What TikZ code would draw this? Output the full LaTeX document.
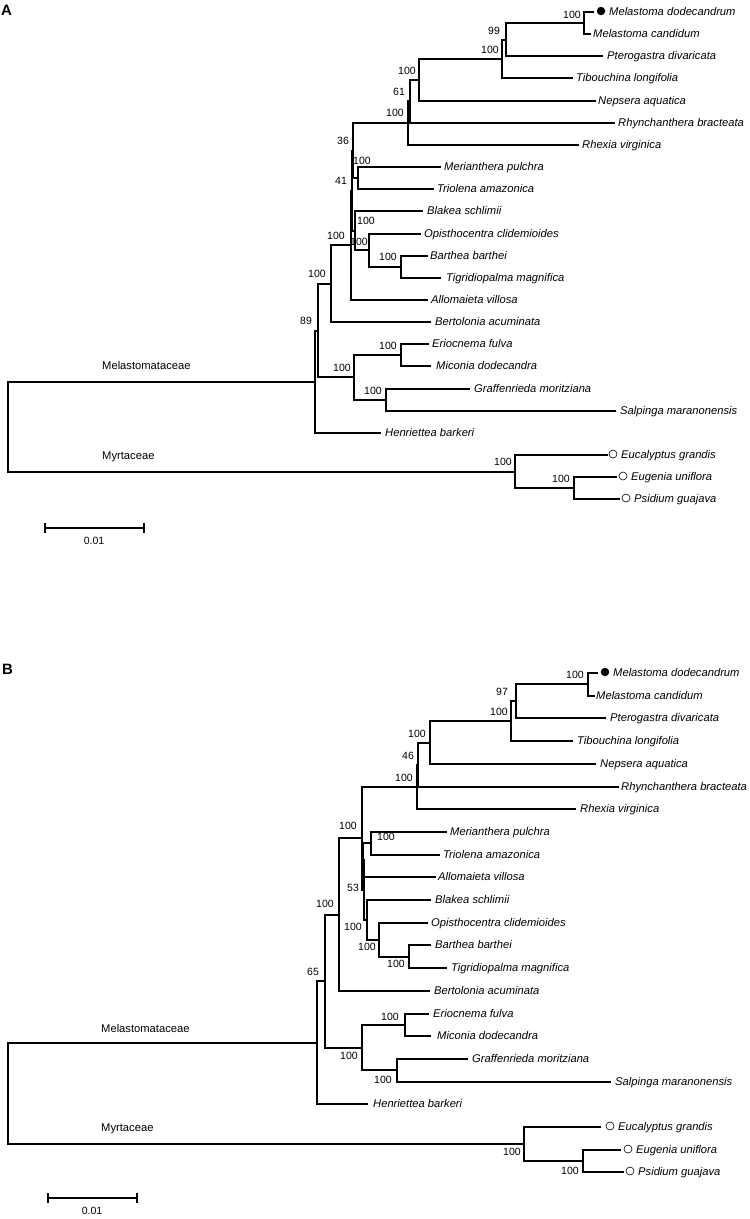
\documentclass[tikz,border=0pt]{standalone}
\usepackage{fontspec}
\setmainfont{Liberation Sans}
\begin{document}
\begin{tikzpicture}[x=1pt,y=-1pt,
  br/.style={line width=1.6pt, line cap=rect},
  leaf/.style={anchor=mid west, inner sep=0pt, font=\fontsize{11.2}{12}\selectfont\itshape},
  bs/.style={inner sep=0pt, font=\fontsize{10.5}{11}\selectfont},
  fam/.style={anchor=mid west, inner sep=0pt, font=\fontsize{11.2}{12}\selectfont},
  panel/.style={anchor=west, inner sep=0pt, font=\fontsize{15}{16}\selectfont\bfseries},
  fdot/.style={circle, fill=black, inner sep=0pt, minimum size=8.5pt},
  odot/.style={circle, draw=black, line width=0.6pt, fill=white, inner sep=0pt, minimum size=8pt},
  sbar/.style={line width=1.6pt}]
\fill[white] (0,0) rectangle (750,1219);
\useasboundingbox (0,0) rectangle (750,1219);

% ================= PANEL A =================
\node[panel] (labA) at (1,10) {A};
% internal nodes
\coordinate (aM) at (584,23);
\coordinate (aP) at (506,40);
\coordinate (aQ) at (502,59);
\coordinate (aR) at (419,80);
\coordinate (aS) at (410,101);
\coordinate (aT) at (408,123);
\coordinate (aW) at (358,178);
\coordinate (aU) at (353,151);
\coordinate (aBa) at (401,267);
\coordinate (aZ) at (369,250);
\coordinate (aY) at (355,231);
\coordinate (aV) at (352,191);
\coordinate (aE) at (351,245);
\coordinate (aC) at (331,284);
\coordinate (aF) at (401,355);
\coordinate (aG) at (386,400);
\coordinate (aD) at (354,377);
\coordinate (aB) at (318,331);
\coordinate (aA) at (315,382);
\coordinate (aI) at (574,488);
\coordinate (aH) at (515,472);
\coordinate (aRoot) at (8,427);
% leaf ends
\coordinate (a0) at (593,12);
\coordinate (a1) at (590,34);
\coordinate (a2) at (602,56);
\coordinate (a3) at (572,78);
\coordinate (a4) at (595,101);
\coordinate (a5) at (614,123);
\coordinate (a6) at (578,145);
\coordinate (a7) at (440,167);
\coordinate (a8) at (433,189);
\coordinate (a9) at (422,211);
\coordinate (a10) at (420,234);
\coordinate (a11) at (427,256);
\coordinate (a12) at (440,278);
\coordinate (a13) at (427,300);
\coordinate (a14) at (430,322);
\coordinate (a15) at (428,344);
\coordinate (a16) at (430,366);
\coordinate (a17) at (469,389);
\coordinate (a18) at (615,411);
\coordinate (a19) at (380,433);
\coordinate (a20) at (607,455);
\coordinate (a21) at (616,477);
\coordinate (a22) at (619,499);

\foreach \p/\c in {aRoot/aA, aRoot/aH, aA/aB, aA/a19, aB/aC, aB/aD, aC/aE, aC/a14,
  aE/aV, aE/a13, aV/aU, aV/aY, aU/aT, aU/aW, aT/aS, aT/a6, aS/aR, aS/a5,
  aR/aQ, aR/a4, aQ/aP, aQ/a3, aP/aM, aP/a2, aM/a0, aM/a1, aW/a7, aW/a8,
  aY/a9, aY/aZ, aZ/a10, aZ/aBa, aBa/a11, aBa/a12, aD/aF, aD/aG,
  aF/a15, aF/a16, aG/a17, aG/a18, aH/a20, aH/aI, aI/a21, aI/a22}
  \draw[br] (\p) |- (\c);

% leaf labels
\node[fdot] (da0) at (601,11) {};
\node[leaf] (ta0) at (609,12.5) {Melastoma dodecandrum};
\node[leaf] (ta1) at (593,34.5) {Melastoma candidum};
\node[leaf] (ta2) at (607,56.5) {Pterogastra divaricata};
\node[leaf] (ta3) at (576,78.5) {Tibouchina longifolia};
\node[leaf] (ta4) at (598,101.5) {Nepsera aquatica};
\node[leaf] (ta5) at (618,123.5) {Rhynchanthera bracteata};
\node[leaf] (ta6) at (582,145.5) {Rhexia virginica};
\node[leaf] (ta7) at (444,167.5) {Merianthera pulchra};
\node[leaf] (ta8) at (437,189.5) {Triolena amazonica};
\node[leaf] (ta9) at (427,211.5) {Blakea schlimii};
\node[leaf] (ta10) at (424,234.5) {Opisthocentra clidemioides};
\node[leaf] (ta11) at (430,256.5) {Barthea barthei};
\node[leaf] (ta12) at (446,278.5) {Tigridiopalma magnifica};
\node[leaf] (ta13) at (431,300.5) {Allomaieta villosa};
\node[leaf] (ta14) at (435,322.5) {Bertolonia acuminata};
\node[leaf] (ta15) at (432,344.5) {Eriocnema fulva};
\node[leaf] (ta16) at (436,366.5) {Miconia dodecandra};
\node[leaf] (ta17) at (474,389.5) {Graffenrieda moritziana};
\node[leaf] (ta18) at (620,411.5) {Salpinga maranonensis};
\node[leaf] (ta19) at (385,433.5) {Henriettea barkeri};
\node[odot] (da20) at (613,454) {};
\node[leaf] (ta20) at (621,455.5) {Eucalyptus grandis};
\node[odot] (da21) at (623,476) {};
\node[leaf] (ta21) at (631,477.5) {Eugenia uniflora};
\node[odot] (da22) at (626,498) {};
\node[leaf] (ta22) at (634,499.5) {Psidium guajava};

% bootstrap A
\node[bs] (bsa1) at (572,15) {100};
\node[bs] (bsa2) at (494,31) {99};
\node[bs] (bsa3) at (490,50) {100};
\node[bs] (bsa4) at (407,71) {100};
\node[bs] (bsa5) at (399,92) {61};
\node[bs] (bsa6) at (395,113) {100};
\node[bs] (bsa7) at (343,141) {36};
\node[bs] (bsa8) at (362,161) {100};
\node[bs] (bsa9) at (341,181) {41};
\node[bs] (bsa10) at (366,221) {100};
\node[bs] (bsa11) at (336,236) {100};
\node[bs] (bsa12) at (359,242) {100};
\node[bs] (bsa13) at (388,257) {100};
\node[bs] (bsa14) at (317,274) {100};
\node[bs] (bsa15) at (306,321) {89};
\node[bs] (bsa16) at (388,346) {100};
\node[bs] (bsa17) at (342,368) {100};
\node[bs] (bsa18) at (373,391) {100};
\node[bs] (bsa19) at (503,462) {100};
\node[bs] (bsa20) at (561,479) {100};

\node[fam] (fa1) at (102,367) {Melastomataceae};
\node[fam] (fa2) at (102,457) {Myrtaceae};

\coordinate (sa1) at (45,528);
\coordinate (sa2) at (144,528);
\draw[sbar] (sa1) -- (sa2);
\draw[sbar] ([yshift=-5pt]sa1) -- ([yshift=5pt]sa1);
\draw[sbar] ([yshift=-5pt]sa2) -- ([yshift=5pt]sa2);
\node[bs] (sla) at (94,541) {0.01};

% ================= PANEL B =================
\node[panel] (labB) at (2,669) {B};
\coordinate (bM) at (588,684);
\coordinate (bP) at (516,701);
\coordinate (bQ) at (511,721);
\coordinate (bR) at (430,743);
\coordinate (bS) at (418,765);
\coordinate (bT) at (417,787);
\coordinate (bW) at (371,843);
\coordinate (bK3) at (363,860);
\coordinate (bBa) at (409,957);
\coordinate (bZ) at (379,940);
\coordinate (bY) at (367,920);
\coordinate (bK) at (364,890);
\coordinate (bU) at (362,838);
\coordinate (bX) at (339,915);
\coordinate (bF) at (405,1025);
\coordinate (bG) at (397,1070);
\coordinate (bD) at (362,1048);
\coordinate (bAA) at (325,981);
\coordinate (bAB) at (317,1043);
\coordinate (bI) at (583,1161);
\coordinate (bH) at (524,1144);
\coordinate (bRoot) at (8,1093);

\coordinate (b0) at (597,673);
\coordinate (b1) at (594,696);
\coordinate (b2) at (605,718);
\coordinate (b3) at (572,741);
\coordinate (b4) at (595,764);
\coordinate (b5) at (618,787);
\coordinate (b6) at (575,809);
\coordinate (b7) at (446,832);
\coordinate (b8) at (439,855);
\coordinate (b9) at (435,877);
\coordinate (b10) at (430,900);
\coordinate (b11) at (427,923);
\coordinate (b12) at (430,945);
\coordinate (b13) at (446,968);
\coordinate (b14) at (429,991);
\coordinate (b15) at (428,1014);
\coordinate (b16) at (430,1036);
\coordinate (b17) at (467,1059);
\coordinate (b18) at (610,1082);
\coordinate (b19) at (367,1104);
\coordinate (b20) at (600,1127);
\coordinate (b21) at (620,1150);
\coordinate (b22) at (623,1172);

\foreach \p/\c in {bRoot/bAB, bRoot/bH, bAB/bAA, bAB/b19, bAA/bX, bAA/bD,
  bX/bU, bX/b14, bU/bT, bU/bK, bT/bS, bT/b6, bS/bR, bS/b5, bR/bQ, bR/b4,
  bQ/bP, bQ/b3, bP/bM, bP/b2, bM/b0, bM/b1, bK/bK3, bK/bY, bK3/bW, bK3/b9,
  bW/b7, bW/b8, bY/b10, bY/bZ, bZ/b11, bZ/bBa, bBa/b12, bBa/b13,
  bD/bF, bD/bG, bF/b15, bF/b16, bG/b17, bG/b18, bH/b20, bH/bI, bI/b21, bI/b22}
  \draw[br] (\p) |- (\c);

\node[fdot] (db0) at (605,672) {};
\node[leaf] (tb0) at (613,673.5) {Melastoma dodecandrum};
\node[leaf] (tb1) at (596,696.5) {Melastoma candidum};
\node[leaf] (tb2) at (610,718.5) {Pterogastra divaricata};
\node[leaf] (tb3) at (577,741.5) {Tibouchina longifolia};
\node[leaf] (tb4) at (600,764.5) {Nepsera aquatica};
\node[leaf] (tb5) at (621,787.5) {Rhynchanthera bracteata};
\node[leaf] (tb6) at (580,809.5) {Rhexia virginica};
\node[leaf] (tb7) at (450,832.5) {Merianthera pulchra};
\node[leaf] (tb8) at (443,855.5) {Triolena amazonica};
\node[leaf] (tb9) at (438,877.5) {Allomaieta villosa};
\node[leaf] (tb10) at (435,900.5) {Blakea schlimii};
\node[leaf] (tb11) at (431,923.5) {Opisthocentra clidemioides};
\node[leaf] (tb12) at (435,945.5) {Barthea barthei};
\node[leaf] (tb13) at (451,968.5) {Tigridiopalma magnifica};
\node[leaf] (tb14) at (434,991.5) {Bertolonia acuminata};
\node[leaf] (tb15) at (433,1014.5) {Eriocnema fulva};
\node[leaf] (tb16) at (437,1036.5) {Miconia dodecandra};
\node[leaf] (tb17) at (472,1059.5) {Graffenrieda moritziana};
\node[leaf] (tb18) at (615,1082.5) {Salpinga maranonensis};
\node[leaf] (tb19) at (373,1104.5) {Henriettea barkeri};
\node[odot] (db20) at (610,1126) {};
\node[leaf] (tb20) at (618,1127.5) {Eucalyptus grandis};
\node[odot] (db21) at (628,1149) {};
\node[leaf] (tb21) at (636,1150.5) {Eugenia uniflora};
\node[odot] (db22) at (630,1171) {};
\node[leaf] (tb22) at (638,1172.5) {Psidium guajava};

\node[bs] (bsb1) at (575,675) {100};
\node[bs] (bsb2) at (502,692) {97};
\node[bs] (bsb3) at (499,712) {100};
\node[bs] (bsb4) at (417,734) {100};
\node[bs] (bsb5) at (408,756) {46};
\node[bs] (bsb6) at (404,778) {100};
\node[bs] (bsb7) at (348,826) {100};
\node[bs] (bsb8) at (386,837) {100};
\node[bs] (bsb9) at (353,888) {53};
\node[bs] (bsb10) at (325,904) {100};
\node[bs] (bsb11) at (353,927) {100};
\node[bs] (bsb12) at (367,947) {100};
\node[bs] (bsb13) at (396,964) {100};
\node[bs] (bsb14) at (313,972) {65};
\node[bs] (bsb15) at (390,1017) {100};
\node[bs] (bsb16) at (349,1056) {100};
\node[bs] (bsb17) at (383,1080) {100};
\node[bs] (bsb18) at (512,1152) {100};
\node[bs] (bsb19) at (570,1171) {100};

\node[fam] (fb1) at (101,1030) {Melastomataceae};
\node[fam] (fb2) at (101,1129) {Myrtaceae};

\coordinate (sb1) at (48,1198);
\coordinate (sb2) at (137,1198);
\draw[sbar] (sb1) -- (sb2);
\draw[sbar] ([yshift=-5pt]sb1) -- ([yshift=5pt]sb1);
\draw[sbar] ([yshift=-5pt]sb2) -- ([yshift=5pt]sb2);
\node[bs] (slb) at (92,1211) {0.01};
\end{tikzpicture}
\end{document}
